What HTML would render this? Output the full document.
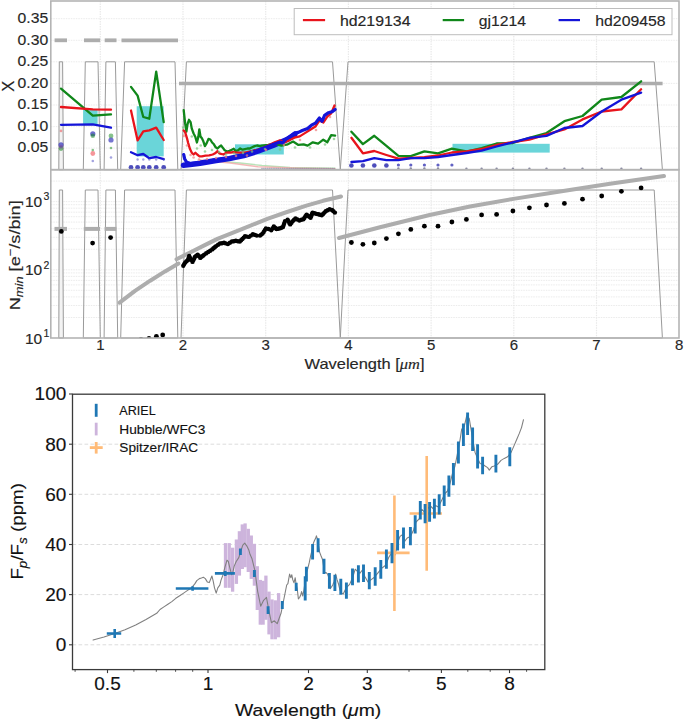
<!DOCTYPE html>
<html><head><meta charset="utf-8"><style>
html,body{margin:0;padding:0;background:#fff;}
svg{display:block;font-family:"Liberation Sans", sans-serif;}
text{stroke:#222;stroke-width:0.15px;paint-order:stroke;}
</style></head><body>
<svg width="685" height="719" viewBox="0 0 685 719">
<rect width="685" height="719" fill="#fff"/>
<line x1="100.3" y1="1.0" x2="100.3" y2="169.7" stroke="#e9e9e9" stroke-width="1.2" stroke-dasharray="1.5,1"/>
<line x1="100.3" y1="169.7" x2="100.3" y2="338.0" stroke="#e9e9e9" stroke-width="1.2" stroke-dasharray="1.5,1"/>
<line x1="183.0" y1="1.0" x2="183.0" y2="169.7" stroke="#e9e9e9" stroke-width="1.2" stroke-dasharray="1.5,1"/>
<line x1="183.0" y1="169.7" x2="183.0" y2="338.0" stroke="#e9e9e9" stroke-width="1.2" stroke-dasharray="1.5,1"/>
<line x1="265.7" y1="1.0" x2="265.7" y2="169.7" stroke="#e9e9e9" stroke-width="1.2" stroke-dasharray="1.5,1"/>
<line x1="265.7" y1="169.7" x2="265.7" y2="338.0" stroke="#e9e9e9" stroke-width="1.2" stroke-dasharray="1.5,1"/>
<line x1="348.4" y1="1.0" x2="348.4" y2="169.7" stroke="#e9e9e9" stroke-width="1.2" stroke-dasharray="1.5,1"/>
<line x1="348.4" y1="169.7" x2="348.4" y2="338.0" stroke="#e9e9e9" stroke-width="1.2" stroke-dasharray="1.5,1"/>
<line x1="431.1" y1="1.0" x2="431.1" y2="169.7" stroke="#e9e9e9" stroke-width="1.2" stroke-dasharray="1.5,1"/>
<line x1="431.1" y1="169.7" x2="431.1" y2="338.0" stroke="#e9e9e9" stroke-width="1.2" stroke-dasharray="1.5,1"/>
<line x1="513.8" y1="1.0" x2="513.8" y2="169.7" stroke="#e9e9e9" stroke-width="1.2" stroke-dasharray="1.5,1"/>
<line x1="513.8" y1="169.7" x2="513.8" y2="338.0" stroke="#e9e9e9" stroke-width="1.2" stroke-dasharray="1.5,1"/>
<line x1="596.5" y1="1.0" x2="596.5" y2="169.7" stroke="#e9e9e9" stroke-width="1.2" stroke-dasharray="1.5,1"/>
<line x1="596.5" y1="169.7" x2="596.5" y2="338.0" stroke="#e9e9e9" stroke-width="1.2" stroke-dasharray="1.5,1"/>
<line x1="50.8" y1="148.1" x2="679.0" y2="148.1" stroke="#e9e9e9" stroke-width="0.9" stroke-dasharray="1.5,1"/>
<line x1="50.8" y1="126.6" x2="679.0" y2="126.6" stroke="#e9e9e9" stroke-width="0.9" stroke-dasharray="1.5,1"/>
<line x1="50.8" y1="105.0" x2="679.0" y2="105.0" stroke="#e9e9e9" stroke-width="0.9" stroke-dasharray="1.5,1"/>
<line x1="50.8" y1="83.4" x2="679.0" y2="83.4" stroke="#e9e9e9" stroke-width="0.9" stroke-dasharray="1.5,1"/>
<line x1="50.8" y1="61.8" x2="679.0" y2="61.8" stroke="#e9e9e9" stroke-width="0.9" stroke-dasharray="1.5,1"/>
<line x1="50.8" y1="40.3" x2="679.0" y2="40.3" stroke="#e9e9e9" stroke-width="0.9" stroke-dasharray="1.5,1"/>
<line x1="50.8" y1="18.7" x2="679.0" y2="18.7" stroke="#e9e9e9" stroke-width="0.9" stroke-dasharray="1.5,1"/>
<line x1="50.8" y1="317.5" x2="679.0" y2="317.5" stroke="#e9e9e9" stroke-width="0.9" stroke-dasharray="1.5,1"/>
<line x1="50.8" y1="305.5" x2="679.0" y2="305.5" stroke="#e9e9e9" stroke-width="0.9" stroke-dasharray="1.5,1"/>
<line x1="50.8" y1="296.9" x2="679.0" y2="296.9" stroke="#e9e9e9" stroke-width="0.9" stroke-dasharray="1.5,1"/>
<line x1="50.8" y1="290.3" x2="679.0" y2="290.3" stroke="#e9e9e9" stroke-width="0.9" stroke-dasharray="1.5,1"/>
<line x1="50.8" y1="284.9" x2="679.0" y2="284.9" stroke="#e9e9e9" stroke-width="0.9" stroke-dasharray="1.5,1"/>
<line x1="50.8" y1="280.4" x2="679.0" y2="280.4" stroke="#e9e9e9" stroke-width="0.9" stroke-dasharray="1.5,1"/>
<line x1="50.8" y1="276.4" x2="679.0" y2="276.4" stroke="#e9e9e9" stroke-width="0.9" stroke-dasharray="1.5,1"/>
<line x1="50.8" y1="272.9" x2="679.0" y2="272.9" stroke="#e9e9e9" stroke-width="0.9" stroke-dasharray="1.5,1"/>
<line x1="50.8" y1="269.8" x2="679.0" y2="269.8" stroke="#e9e9e9" stroke-width="0.9" stroke-dasharray="1.5,1"/>
<line x1="50.8" y1="249.3" x2="679.0" y2="249.3" stroke="#e9e9e9" stroke-width="0.9" stroke-dasharray="1.5,1"/>
<line x1="50.8" y1="237.3" x2="679.0" y2="237.3" stroke="#e9e9e9" stroke-width="0.9" stroke-dasharray="1.5,1"/>
<line x1="50.8" y1="228.7" x2="679.0" y2="228.7" stroke="#e9e9e9" stroke-width="0.9" stroke-dasharray="1.5,1"/>
<line x1="50.8" y1="222.1" x2="679.0" y2="222.1" stroke="#e9e9e9" stroke-width="0.9" stroke-dasharray="1.5,1"/>
<line x1="50.8" y1="216.7" x2="679.0" y2="216.7" stroke="#e9e9e9" stroke-width="0.9" stroke-dasharray="1.5,1"/>
<line x1="50.8" y1="212.2" x2="679.0" y2="212.2" stroke="#e9e9e9" stroke-width="0.9" stroke-dasharray="1.5,1"/>
<line x1="50.8" y1="208.2" x2="679.0" y2="208.2" stroke="#e9e9e9" stroke-width="0.9" stroke-dasharray="1.5,1"/>
<line x1="50.8" y1="204.7" x2="679.0" y2="204.7" stroke="#e9e9e9" stroke-width="0.9" stroke-dasharray="1.5,1"/>
<line x1="50.8" y1="201.6" x2="679.0" y2="201.6" stroke="#e9e9e9" stroke-width="0.9" stroke-dasharray="1.5,1"/>
<line x1="50.8" y1="181.1" x2="679.0" y2="181.1" stroke="#e9e9e9" stroke-width="0.9" stroke-dasharray="1.5,1"/>
<polygon points="58.8,169.7 59.3,61.8 62.6,61.8 63.4,169.7" fill="#f3f3f3" stroke="#9a9a9a" stroke-width="1"/>
<polygon points="58.8,338.0 59.3,190.0 62.6,190.0 63.4,338.0" fill="#f3f3f3" stroke="#9a9a9a" stroke-width="1"/>
<polygon points="83.3,169.7 85.3,61.8 98.0,61.8 100.3,169.7" fill="none" stroke="#9a9a9a" stroke-width="1"/>
<polygon points="83.3,338.0 85.3,190.0 98.0,190.0 100.3,338.0" fill="none" stroke="#9a9a9a" stroke-width="1"/>
<polygon points="104.1,169.7 105.9,61.8 115.4,61.8 117.7,169.7" fill="none" stroke="#9a9a9a" stroke-width="1"/>
<polygon points="104.1,338.0 105.9,190.0 115.4,190.0 117.7,338.0" fill="none" stroke="#9a9a9a" stroke-width="1"/>
<polygon points="120.7,169.7 124.6,61.8 175.0,61.8 177.8,169.7" fill="none" stroke="#9a9a9a" stroke-width="1"/>
<polygon points="120.7,338.0 124.6,190.0 175.0,190.0 177.8,338.0" fill="none" stroke="#9a9a9a" stroke-width="1"/>
<polygon points="181.0,169.7 186.4,61.8 332.5,61.8 340.3,169.7" fill="none" stroke="#9a9a9a" stroke-width="1"/>
<polygon points="181.0,338.0 186.4,190.0 332.5,190.0 340.3,338.0" fill="none" stroke="#9a9a9a" stroke-width="1"/>
<polygon points="340.3,169.7 348.0,61.8 654.2,61.8 662.4,169.7" fill="none" stroke="#9a9a9a" stroke-width="1"/>
<polygon points="340.3,338.0 348.0,190.0 654.2,190.0 662.4,338.0" fill="none" stroke="#9a9a9a" stroke-width="1"/>
<clipPath id="c1"><rect x="50.8" y="1.0" width="628.2" height="168.7"/></clipPath>
<clipPath id="c2"><rect x="50.8" y="169.7" width="628.2" height="168.3"/></clipPath>
<line x1="54.6" y1="40.3" x2="67.0" y2="40.3" stroke="#adadad" stroke-width="3.8" />
<line x1="84.0" y1="40.3" x2="100.2" y2="40.3" stroke="#adadad" stroke-width="3.8" />
<line x1="104.7" y1="40.3" x2="116.5" y2="40.3" stroke="#adadad" stroke-width="3.8" />
<line x1="121.5" y1="40.3" x2="178.0" y2="40.3" stroke="#adadad" stroke-width="3.8" />
<line x1="179.0" y1="83.5" x2="662.6" y2="83.5" stroke="#adadad" stroke-width="3.6" />
<line x1="54.5" y1="228.9" x2="67.0" y2="228.9" stroke="#adadad" stroke-width="4" />
<line x1="83.8" y1="228.9" x2="100.0" y2="228.9" stroke="#adadad" stroke-width="4" />
<line x1="104.6" y1="228.9" x2="116.4" y2="228.9" stroke="#adadad" stroke-width="4" />
<polyline points="119.6,302.7 135.0,290.8 150.2,280.7 165.0,271.4 178.5,263.5" fill="none" stroke="#adadad" stroke-width="4.0" stroke-linejoin="round" stroke-linecap="round" stroke-linecap="butt"/>
<polyline points="176.5,259.2 191.1,252.0 204.3,245.4 217.4,238.9 230.6,233.6 243.7,228.4 256.8,223.1 268.0,218.6 287.0,212.0 306.4,205.7 323.0,200.8 341.0,196.5" fill="none" stroke="#adadad" stroke-width="4.0" stroke-linejoin="round" stroke-linecap="round" stroke-linecap="butt"/>
<polyline points="339.0,238.0 380.0,227.2 429.6,215.0 470.0,206.5 515.0,198.6 560.0,191.5 610.0,183.8 664.0,176.0" fill="none" stroke="#adadad" stroke-width="4.0" stroke-linejoin="round" stroke-linecap="round" stroke-linecap="butt"/>
<g clip-path="url(#c1)">
<rect x="83.1" y="109.8" width="14.5" height="14.7" fill="#6ad5d9" opacity="1"/>
<rect x="136.7" y="106.2" width="27.0" height="50.2" fill="#6ad5d9" opacity="1"/>
<rect x="235.0" y="144.3" width="48.8" height="10.2" fill="#6ad5d9" opacity="1"/>
<rect x="452.5" y="143.8" width="97.2" height="8.8" fill="#6ad5d9" opacity="1"/>
<polyline points="215.0,161.0 240.0,163.0 262.0,165.5 290.0,167.5 335.0,168.3" fill="none" stroke="#a8dca8" stroke-width="1.4" stroke-linejoin="round" stroke-linecap="round" opacity="0.8"/>
<polyline points="200.0,160.0 230.0,163.0 258.0,166.8 300.0,168.2 335.0,168.6" fill="none" stroke="#f2a8a8" stroke-width="1.4" stroke-linejoin="round" stroke-linecap="round" opacity="0.8"/>
<polyline points="183.5,165.2 190.0,164.6 200.0,163.2 214.6,160.7 229.2,158.6 243.8,155.6 258.4,151.0 273.0,145.5 287.6,139.2 294.9,134.2" fill="none" stroke="#1414d8" stroke-width="5.5" stroke-linejoin="round" stroke-linecap="round" />
<polyline points="61.0,88.6 92.8,115.6 111.0,114.3" fill="none" stroke="#10871a" stroke-width="2.3" stroke-linejoin="round" stroke-linecap="round" />
<polyline points="61.0,107.0 92.8,109.4 111.0,109.7" fill="none" stroke="#e8141c" stroke-width="2.3" stroke-linejoin="round" stroke-linecap="round" />
<polyline points="61.0,124.8 92.8,124.4 111.0,127.7" fill="none" stroke="#1414d8" stroke-width="2.3" stroke-linejoin="round" stroke-linecap="round" />
<polyline points="131.0,86.9 137.6,95.6 143.3,117.0 149.3,118.7 156.2,71.7 163.7,122.2" fill="none" stroke="#10871a" stroke-width="2.3" stroke-linejoin="round" stroke-linecap="round" />
<polyline points="131.0,110.5 137.6,140.4 143.3,131.4 149.3,130.3 156.2,127.7 163.7,140.0" fill="none" stroke="#e8141c" stroke-width="2.3" stroke-linejoin="round" stroke-linecap="round" />
<polyline points="131.0,152.3 137.6,155.2 143.3,154.0 149.3,158.2 156.2,157.0 163.7,159.2" fill="none" stroke="#1414d8" stroke-width="2.3" stroke-linejoin="round" stroke-linecap="round" />
<polyline points="183.7,110.2 185.2,123.9 186.4,131.7 187.6,123.9 189.0,119.8 190.6,122.1 191.8,128.7 193.6,133.5 195.4,137.1 196.9,142.5 198.3,137.1 199.3,129.3 200.5,136.5 201.9,138.3 203.1,140.7 204.9,146.1 206.7,143.1 208.5,138.9 210.3,139.5 212.1,142.5 213.9,144.3 215.7,147.3 217.5,148.5 219.3,146.7 221.1,145.5 222.9,147.9 224.7,150.3 227.1,151.5 229.5,150.9 231.9,149.7 233.7,148.8 235.5,150.9 237.9,150.3 240.2,148.5 242.6,149.7 245.0,149.1 247.4,148.5 249.8,148.5 252.2,147.3 254.6,146.1 257.0,145.5 260.0,146.1 261.6,145.6 268.1,144.9 274.7,143.6 281.3,145.6 287.8,144.3 293.1,141.6 298.4,144.9 303.6,144.3 307.6,145.6 312.8,142.3 318.1,143.6 323.3,139.7 327.3,142.3 331.2,135.1 335.1,135.7" fill="none" stroke="#10871a" stroke-width="2.3" stroke-linejoin="round" stroke-linecap="round" />
<polyline points="183.7,130.5 185.2,132.3 187.0,138.3 188.2,143.1 190.0,149.1 191.8,152.7 193.6,154.5 195.4,152.7 197.2,154.5 199.5,156.3 201.9,156.3 205.5,155.7 209.1,155.3 212.7,154.5 215.1,153.3 217.5,151.2 219.3,153.3 221.1,153.9 223.5,154.5 225.9,152.9 228.3,152.4 230.7,152.7 233.1,152.1 235.5,152.4 240.2,152.7 245.0,152.7 249.8,151.5 254.6,150.3 261.6,148.9 268.1,145.6 274.7,142.3 280.0,140.3 283.9,142.3 289.2,140.3 294.4,137.7 299.7,136.4 304.9,133.1 310.2,129.8 315.4,126.5 319.4,120.6 323.3,122.6 327.3,116.7 331.2,113.4 334.5,105.5" fill="none" stroke="#e8141c" stroke-width="2.3" stroke-linejoin="round" stroke-linecap="round" />
<polyline points="183.7,154.5 184.6,158.7 186.4,162.0 190.0,163.5 200.0,162.5 214.6,160.0 229.2,157.8 243.8,154.8 258.4,150.2 273.0,144.5 280.0,142.0 282.6,142.8 286.5,138.7 290.5,136.5 294.4,133.1 298.4,132.4 302.3,130.5 307.6,128.5 311.5,125.2 315.4,123.2 319.4,118.0 322.0,121.3 324.6,115.4 328.6,112.7 332.5,111.4 335.1,109.5" fill="none" stroke="#1414d8" stroke-width="3.2" stroke-linejoin="round" stroke-linecap="round" />
<polyline points="351.4,131.7 362.9,144.1 374.3,135.8 386.4,145.8 398.4,155.8 410.8,156.2 424.4,151.4 438.0,153.4 451.9,148.7 466.4,151.5 481.6,148.1 496.6,143.5 512.9,143.0 529.4,137.8 546.5,133.0 564.4,121.2 582.5,116.0 601.7,99.7 621.4,97.0 641.1,81.3" fill="none" stroke="#10871a" stroke-width="2.3" stroke-linejoin="round" stroke-linecap="round" />
<polyline points="351.4,137.8 362.9,153.3 374.3,151.0 386.4,155.0 398.4,158.7 410.8,158.0 424.4,157.2 438.0,155.5 451.9,152.5 466.4,151.5 481.6,149.0 496.6,145.0 512.9,142.0 529.4,139.6 546.5,134.3 564.4,129.4 582.5,119.4 601.7,111.5 621.4,109.4 641.1,89.2" fill="none" stroke="#e8141c" stroke-width="2.3" stroke-linejoin="round" stroke-linecap="round" />
<polyline points="351.4,162.0 362.9,161.2 374.3,158.2 386.4,160.1 398.4,160.1 410.8,158.2 424.4,158.2 438.0,157.0 451.9,155.0 466.4,153.0 481.6,150.7 496.6,146.5 512.9,142.3 529.4,137.8 546.5,135.9 564.4,128.0 582.5,126.0 601.7,111.5 621.4,99.7 641.1,92.6" fill="none" stroke="#1414d8" stroke-width="2.3" stroke-linejoin="round" stroke-linecap="round" />
<circle cx="61.0" cy="144.8" r="2.6" fill="#4848c0" opacity="0.8"/>
<circle cx="61.0" cy="148.6" r="2.3" fill="#10871a" opacity="0.55"/>
<circle cx="61.0" cy="130.9" r="1.3" fill="#e8141c" opacity="0.4"/>
<circle cx="61.0" cy="146.8" r="2.0" fill="#7a4aa0" opacity="0.6"/>
<circle cx="92.8" cy="133.8" r="2.6" fill="#4848c0" opacity="0.8"/>
<circle cx="92.8" cy="135.8" r="2.3" fill="#10871a" opacity="0.5"/>
<circle cx="92.8" cy="153.5" r="2.4" fill="#e8141c" opacity="0.45"/>
<circle cx="92.8" cy="150.0" r="1.3" fill="#10871a" opacity="0.5"/>
<circle cx="92.8" cy="161.0" r="1.3" fill="#4848c0" opacity="0.5"/>
<circle cx="111.0" cy="136.0" r="2.4" fill="#10871a" opacity="0.5"/>
<circle cx="111.0" cy="140.0" r="2.6" fill="#4848c0" opacity="0.75"/>
<circle cx="111.0" cy="148.0" r="1.3" fill="#10871a" opacity="0.5"/>
<circle cx="111.0" cy="157.5" r="1.3" fill="#4848c0" opacity="0.5"/>
<circle cx="131.0" cy="167.4" r="2.4" fill="#3a3ab4" opacity="0.9"/>
<circle cx="137.6" cy="167.4" r="2.4" fill="#3a3ab4" opacity="0.9"/>
<circle cx="143.3" cy="167.4" r="2.4" fill="#3a3ab4" opacity="0.9"/>
<circle cx="149.3" cy="167.4" r="2.4" fill="#3a3ab4" opacity="0.9"/>
<circle cx="156.2" cy="167.4" r="2.4" fill="#3a3ab4" opacity="0.9"/>
<circle cx="163.7" cy="167.4" r="2.4" fill="#3a3ab4" opacity="0.9"/>
<circle cx="137.6" cy="159.5" r="1.2" fill="#4848c0" opacity="0.5"/>
<circle cx="143.3" cy="159.5" r="1.2" fill="#4848c0" opacity="0.5"/>
<circle cx="149.3" cy="159.5" r="1.2" fill="#4848c0" opacity="0.5"/>
<circle cx="156.2" cy="159.5" r="1.2" fill="#4848c0" opacity="0.5"/>
<circle cx="163.7" cy="159.5" r="1.2" fill="#4848c0" opacity="0.5"/>
<circle cx="351.4" cy="165.5" r="2.3" fill="#3a3ab4" opacity="0.9"/>
<circle cx="362.9" cy="165.5" r="2.3" fill="#3a3ab4" opacity="0.9"/>
<circle cx="374.3" cy="165.5" r="2.3" fill="#3a3ab4" opacity="0.9"/>
<circle cx="386.4" cy="165.5" r="2.3" fill="#3a3ab4" opacity="0.9"/>
<circle cx="398.4" cy="165.0" r="1.6" fill="#3a3ab4" opacity="0.8"/>
<circle cx="410.8" cy="165.0" r="1.6" fill="#3a3ab4" opacity="0.8"/>
<circle cx="424.4" cy="165.0" r="1.6" fill="#3a3ab4" opacity="0.8"/>
<circle cx="438.0" cy="165.0" r="1.6" fill="#3a3ab4" opacity="0.8"/>
<circle cx="451.9" cy="165.0" r="1.6" fill="#3a3ab4" opacity="0.8"/>
<circle cx="466.4" cy="168.8" r="1.2" fill="#555577" opacity="0.7"/>
<circle cx="481.6" cy="168.8" r="1.2" fill="#555577" opacity="0.7"/>
<circle cx="496.6" cy="168.8" r="1.2" fill="#555577" opacity="0.7"/>
<circle cx="512.9" cy="168.8" r="1.2" fill="#555577" opacity="0.7"/>
<circle cx="529.4" cy="168.8" r="1.2" fill="#555577" opacity="0.7"/>
<circle cx="546.5" cy="168.8" r="1.2" fill="#555577" opacity="0.7"/>
<circle cx="564.4" cy="168.8" r="1.2" fill="#555577" opacity="0.7"/>
<circle cx="582.5" cy="168.8" r="1.2" fill="#555577" opacity="0.7"/>
<circle cx="601.7" cy="168.8" r="1.2" fill="#555577" opacity="0.7"/>
<circle cx="621.4" cy="168.8" r="1.2" fill="#555577" opacity="0.7"/>
<circle cx="641.1" cy="168.8" r="1.2" fill="#555577" opacity="0.7"/>
<circle cx="398.4" cy="168.5" r="1.2" fill="#555577" opacity="0.7"/>
<circle cx="410.8" cy="168.5" r="1.2" fill="#555577" opacity="0.7"/>
<circle cx="424.4" cy="168.5" r="1.2" fill="#555577" opacity="0.7"/>
<circle cx="438.0" cy="168.5" r="1.2" fill="#555577" opacity="0.7"/>
<circle cx="262.0" cy="168.6" r="0.9" fill="#777799" opacity="0.6"/>
<circle cx="263.9" cy="168.6" r="0.9" fill="#777799" opacity="0.6"/>
<circle cx="265.7" cy="168.6" r="0.9" fill="#777799" opacity="0.6"/>
<circle cx="267.6" cy="168.6" r="0.9" fill="#777799" opacity="0.6"/>
<circle cx="269.4" cy="168.6" r="0.9" fill="#777799" opacity="0.6"/>
<circle cx="271.2" cy="168.6" r="0.9" fill="#777799" opacity="0.6"/>
<circle cx="273.1" cy="168.6" r="0.9" fill="#777799" opacity="0.6"/>
<circle cx="274.9" cy="168.6" r="0.9" fill="#777799" opacity="0.6"/>
<circle cx="276.8" cy="168.6" r="0.9" fill="#777799" opacity="0.6"/>
<circle cx="278.6" cy="168.6" r="0.9" fill="#777799" opacity="0.6"/>
<circle cx="280.5" cy="168.6" r="0.9" fill="#777799" opacity="0.6"/>
<circle cx="282.4" cy="168.6" r="0.9" fill="#777799" opacity="0.6"/>
<circle cx="284.2" cy="168.6" r="0.9" fill="#777799" opacity="0.6"/>
<circle cx="286.1" cy="168.6" r="0.9" fill="#777799" opacity="0.6"/>
<circle cx="287.9" cy="168.6" r="0.9" fill="#777799" opacity="0.6"/>
<circle cx="289.8" cy="168.6" r="0.9" fill="#777799" opacity="0.6"/>
<circle cx="291.6" cy="168.6" r="0.9" fill="#777799" opacity="0.6"/>
<circle cx="293.4" cy="168.6" r="0.9" fill="#777799" opacity="0.6"/>
<circle cx="295.3" cy="168.6" r="0.9" fill="#777799" opacity="0.6"/>
<circle cx="297.1" cy="168.6" r="0.9" fill="#777799" opacity="0.6"/>
<circle cx="299.0" cy="168.6" r="0.9" fill="#777799" opacity="0.6"/>
<circle cx="300.9" cy="168.6" r="0.9" fill="#777799" opacity="0.6"/>
<circle cx="302.7" cy="168.6" r="0.9" fill="#777799" opacity="0.6"/>
<circle cx="304.6" cy="168.6" r="0.9" fill="#777799" opacity="0.6"/>
<circle cx="306.4" cy="168.6" r="0.9" fill="#777799" opacity="0.6"/>
<circle cx="308.2" cy="168.6" r="0.9" fill="#777799" opacity="0.6"/>
<circle cx="310.1" cy="168.6" r="0.9" fill="#777799" opacity="0.6"/>
<circle cx="311.9" cy="168.6" r="0.9" fill="#777799" opacity="0.6"/>
<circle cx="313.8" cy="168.6" r="0.9" fill="#777799" opacity="0.6"/>
<circle cx="315.6" cy="168.6" r="0.9" fill="#777799" opacity="0.6"/>
<circle cx="317.5" cy="168.6" r="0.9" fill="#777799" opacity="0.6"/>
<circle cx="319.4" cy="168.6" r="0.9" fill="#777799" opacity="0.6"/>
<circle cx="321.2" cy="168.6" r="0.9" fill="#777799" opacity="0.6"/>
<circle cx="323.1" cy="168.6" r="0.9" fill="#777799" opacity="0.6"/>
<circle cx="324.9" cy="168.6" r="0.9" fill="#777799" opacity="0.6"/>
<circle cx="326.8" cy="168.6" r="0.9" fill="#777799" opacity="0.6"/>
<circle cx="328.6" cy="168.6" r="0.9" fill="#777799" opacity="0.6"/>
<circle cx="330.4" cy="168.6" r="0.9" fill="#777799" opacity="0.6"/>
<circle cx="332.3" cy="168.6" r="0.9" fill="#777799" opacity="0.6"/>
<circle cx="334.1" cy="168.6" r="0.9" fill="#777799" opacity="0.6"/>
<circle cx="183.3" cy="127.5" r="1.3" fill="#7cc47c" opacity="0.7"/>
<circle cx="191.8" cy="136.5" r="1.3" fill="#7cc47c" opacity="0.7"/>
<circle cx="197.0" cy="148.5" r="1.3" fill="#7cc47c" opacity="0.7"/>
<circle cx="200.7" cy="145.5" r="1.3" fill="#7cc47c" opacity="0.7"/>
<circle cx="205.0" cy="151.5" r="1.3" fill="#7cc47c" opacity="0.7"/>
<circle cx="212.0" cy="150.0" r="1.3" fill="#7cc47c" opacity="0.7"/>
<circle cx="219.0" cy="152.0" r="1.3" fill="#7cc47c" opacity="0.7"/>
<circle cx="226.0" cy="154.5" r="1.3" fill="#7cc47c" opacity="0.7"/>
<circle cx="234.0" cy="153.5" r="1.3" fill="#7cc47c" opacity="0.7"/>
<circle cx="243.0" cy="153.0" r="1.3" fill="#7cc47c" opacity="0.7"/>
<circle cx="252.0" cy="151.5" r="1.3" fill="#7cc47c" opacity="0.7"/>
<circle cx="265.0" cy="149.0" r="1.3" fill="#7cc47c" opacity="0.7"/>
<circle cx="280.0" cy="149.5" r="1.3" fill="#7cc47c" opacity="0.7"/>
<circle cx="295.0" cy="147.5" r="1.3" fill="#7cc47c" opacity="0.7"/>
<circle cx="310.0" cy="147.5" r="1.3" fill="#7cc47c" opacity="0.7"/>
<circle cx="325.0" cy="144.5" r="1.3" fill="#7cc47c" opacity="0.7"/>
<circle cx="334.0" cy="139.0" r="1.3" fill="#7cc47c" opacity="0.7"/>
<circle cx="183.7" cy="135.9" r="1.3" fill="#f08080" opacity="0.7"/>
<circle cx="187.0" cy="145.5" r="1.3" fill="#f08080" opacity="0.7"/>
<circle cx="190.6" cy="155.0" r="1.3" fill="#f08080" opacity="0.7"/>
<circle cx="193.6" cy="157.5" r="1.3" fill="#f08080" opacity="0.7"/>
<circle cx="199.0" cy="159.5" r="1.3" fill="#f08080" opacity="0.7"/>
<circle cx="207.0" cy="159.0" r="1.3" fill="#f08080" opacity="0.7"/>
<circle cx="216.0" cy="158.0" r="1.3" fill="#f08080" opacity="0.7"/>
<circle cx="226.0" cy="157.0" r="1.3" fill="#f08080" opacity="0.7"/>
<circle cx="236.0" cy="156.0" r="1.3" fill="#f08080" opacity="0.7"/>
<circle cx="247.0" cy="155.5" r="1.3" fill="#f08080" opacity="0.7"/>
<circle cx="266.0" cy="150.0" r="1.3" fill="#f08080" opacity="0.7"/>
<circle cx="284.0" cy="145.0" r="1.3" fill="#f08080" opacity="0.7"/>
<circle cx="300.0" cy="140.0" r="1.3" fill="#f08080" opacity="0.7"/>
<circle cx="316.0" cy="130.0" r="1.3" fill="#f08080" opacity="0.7"/>
<circle cx="330.0" cy="117.0" r="1.3" fill="#f08080" opacity="0.7"/>
</g>
<g clip-path="url(#c2)">
<circle cx="183.3" cy="265.8" r="2.2" fill="#000" opacity="1"/>
<circle cx="184.2" cy="264.1" r="2.2" fill="#000" opacity="1"/>
<circle cx="185.2" cy="262.5" r="2.2" fill="#000" opacity="1"/>
<circle cx="186.6" cy="261.2" r="2.2" fill="#000" opacity="1"/>
<circle cx="187.9" cy="259.9" r="2.2" fill="#000" opacity="1"/>
<circle cx="188.6" cy="257.9" r="2.2" fill="#000" opacity="1"/>
<circle cx="189.2" cy="256.0" r="2.2" fill="#000" opacity="1"/>
<circle cx="190.1" cy="257.9" r="2.2" fill="#000" opacity="1"/>
<circle cx="191.1" cy="259.9" r="2.2" fill="#000" opacity="1"/>
<circle cx="192.5" cy="261.9" r="2.2" fill="#000" opacity="1"/>
<circle cx="193.4" cy="260.1" r="2.2" fill="#000" opacity="1"/>
<circle cx="194.2" cy="258.4" r="2.2" fill="#000" opacity="1"/>
<circle cx="195.1" cy="256.6" r="2.2" fill="#000" opacity="1"/>
<circle cx="196.4" cy="255.6" r="2.2" fill="#000" opacity="1"/>
<circle cx="197.7" cy="254.6" r="2.2" fill="#000" opacity="1"/>
<circle cx="199.0" cy="256.2" r="2.2" fill="#000" opacity="1"/>
<circle cx="200.3" cy="257.9" r="2.2" fill="#000" opacity="1"/>
<circle cx="201.6" cy="256.8" r="2.2" fill="#000" opacity="1"/>
<circle cx="203.0" cy="255.7" r="2.2" fill="#000" opacity="1"/>
<circle cx="204.3" cy="254.6" r="2.2" fill="#000" opacity="1"/>
<circle cx="206.2" cy="253.3" r="2.2" fill="#000" opacity="1"/>
<circle cx="208.2" cy="252.0" r="2.2" fill="#000" opacity="1"/>
<circle cx="210.2" cy="250.7" r="2.2" fill="#000" opacity="1"/>
<circle cx="212.2" cy="249.4" r="2.2" fill="#000" opacity="1"/>
<circle cx="213.5" cy="248.3" r="2.2" fill="#000" opacity="1"/>
<circle cx="214.8" cy="247.2" r="2.2" fill="#000" opacity="1"/>
<circle cx="216.1" cy="246.1" r="2.2" fill="#000" opacity="1"/>
<circle cx="218.1" cy="244.8" r="2.2" fill="#000" opacity="1"/>
<circle cx="220.0" cy="243.5" r="2.2" fill="#000" opacity="1"/>
<circle cx="222.0" cy="243.2" r="2.2" fill="#000" opacity="1"/>
<circle cx="224.0" cy="242.8" r="2.2" fill="#000" opacity="1"/>
<circle cx="225.9" cy="243.4" r="2.2" fill="#000" opacity="1"/>
<circle cx="227.9" cy="244.1" r="2.2" fill="#000" opacity="1"/>
<circle cx="229.9" cy="242.8" r="2.2" fill="#000" opacity="1"/>
<circle cx="231.9" cy="241.5" r="2.2" fill="#000" opacity="1"/>
<circle cx="233.9" cy="241.2" r="2.2" fill="#000" opacity="1"/>
<circle cx="235.8" cy="240.8" r="2.2" fill="#000" opacity="1"/>
<circle cx="237.8" cy="241.2" r="2.2" fill="#000" opacity="1"/>
<circle cx="239.8" cy="241.5" r="2.2" fill="#000" opacity="1"/>
<circle cx="241.1" cy="240.2" r="2.2" fill="#000" opacity="1"/>
<circle cx="242.4" cy="238.9" r="2.2" fill="#000" opacity="1"/>
<circle cx="243.7" cy="237.6" r="2.2" fill="#000" opacity="1"/>
<circle cx="245.0" cy="236.2" r="2.2" fill="#000" opacity="1"/>
<circle cx="246.9" cy="236.6" r="2.2" fill="#000" opacity="1"/>
<circle cx="248.9" cy="236.9" r="2.2" fill="#000" opacity="1"/>
<circle cx="250.9" cy="235.6" r="2.2" fill="#000" opacity="1"/>
<circle cx="252.9" cy="234.3" r="2.2" fill="#000" opacity="1"/>
<circle cx="254.9" cy="234.9" r="2.2" fill="#000" opacity="1"/>
<circle cx="256.8" cy="235.6" r="2.2" fill="#000" opacity="1"/>
<circle cx="260.0" cy="235.6" r="2.2" fill="#000" opacity="1"/>
<circle cx="261.3" cy="234.6" r="2.2" fill="#000" opacity="1"/>
<circle cx="262.6" cy="233.6" r="2.2" fill="#000" opacity="1"/>
<circle cx="263.7" cy="231.9" r="2.2" fill="#000" opacity="1"/>
<circle cx="264.8" cy="230.1" r="2.2" fill="#000" opacity="1"/>
<circle cx="265.9" cy="228.4" r="2.2" fill="#000" opacity="1"/>
<circle cx="268.5" cy="229.0" r="2.2" fill="#000" opacity="1"/>
<circle cx="271.2" cy="230.3" r="2.2" fill="#000" opacity="1"/>
<circle cx="272.5" cy="228.4" r="2.2" fill="#000" opacity="1"/>
<circle cx="273.8" cy="226.4" r="2.2" fill="#000" opacity="1"/>
<circle cx="275.1" cy="227.7" r="2.2" fill="#000" opacity="1"/>
<circle cx="276.4" cy="229.0" r="2.2" fill="#000" opacity="1"/>
<circle cx="278.0" cy="228.7" r="2.2" fill="#000" opacity="1"/>
<circle cx="279.7" cy="228.4" r="2.2" fill="#000" opacity="1"/>
<circle cx="281.4" cy="227.7" r="2.2" fill="#000" opacity="1"/>
<circle cx="283.0" cy="227.0" r="2.2" fill="#000" opacity="1"/>
<circle cx="283.7" cy="225.0" r="2.2" fill="#000" opacity="1"/>
<circle cx="284.3" cy="223.1" r="2.2" fill="#000" opacity="1"/>
<circle cx="285.0" cy="221.1" r="2.2" fill="#000" opacity="1"/>
<circle cx="287.6" cy="219.8" r="2.2" fill="#000" opacity="1"/>
<circle cx="288.5" cy="221.3" r="2.2" fill="#000" opacity="1"/>
<circle cx="289.3" cy="222.9" r="2.2" fill="#000" opacity="1"/>
<circle cx="290.2" cy="224.4" r="2.2" fill="#000" opacity="1"/>
<circle cx="291.5" cy="222.8" r="2.2" fill="#000" opacity="1"/>
<circle cx="292.8" cy="221.1" r="2.2" fill="#000" opacity="1"/>
<circle cx="294.1" cy="219.8" r="2.2" fill="#000" opacity="1"/>
<circle cx="295.5" cy="218.5" r="2.2" fill="#000" opacity="1"/>
<circle cx="297.4" cy="219.5" r="2.2" fill="#000" opacity="1"/>
<circle cx="299.4" cy="220.5" r="2.2" fill="#000" opacity="1"/>
<circle cx="301.4" cy="219.8" r="2.2" fill="#000" opacity="1"/>
<circle cx="303.4" cy="219.2" r="2.2" fill="#000" opacity="1"/>
<circle cx="304.5" cy="217.7" r="2.2" fill="#000" opacity="1"/>
<circle cx="305.5" cy="216.1" r="2.2" fill="#000" opacity="1"/>
<circle cx="306.6" cy="214.6" r="2.2" fill="#000" opacity="1"/>
<circle cx="307.9" cy="215.7" r="2.2" fill="#000" opacity="1"/>
<circle cx="309.3" cy="216.7" r="2.2" fill="#000" opacity="1"/>
<circle cx="310.6" cy="217.8" r="2.2" fill="#000" opacity="1"/>
<circle cx="311.3" cy="216.1" r="2.2" fill="#000" opacity="1"/>
<circle cx="311.9" cy="214.3" r="2.2" fill="#000" opacity="1"/>
<circle cx="312.6" cy="212.6" r="2.2" fill="#000" opacity="1"/>
<circle cx="314.6" cy="213.2" r="2.2" fill="#000" opacity="1"/>
<circle cx="316.5" cy="213.9" r="2.2" fill="#000" opacity="1"/>
<circle cx="318.3" cy="214.3" r="2.2" fill="#000" opacity="1"/>
<circle cx="320.0" cy="214.8" r="2.2" fill="#000" opacity="1"/>
<circle cx="321.8" cy="215.2" r="2.2" fill="#000" opacity="1"/>
<circle cx="323.1" cy="213.9" r="2.2" fill="#000" opacity="1"/>
<circle cx="324.4" cy="212.6" r="2.2" fill="#000" opacity="1"/>
<circle cx="325.7" cy="211.3" r="2.2" fill="#000" opacity="1"/>
<circle cx="327.6" cy="210.3" r="2.2" fill="#000" opacity="1"/>
<circle cx="329.6" cy="209.3" r="2.2" fill="#000" opacity="1"/>
<circle cx="332.0" cy="210.0" r="2.2" fill="#000" opacity="1"/>
<circle cx="333.4" cy="211.3" r="2.2" fill="#000" opacity="1"/>
<circle cx="334.9" cy="212.6" r="2.2" fill="#000" opacity="1"/>
<circle cx="61.3" cy="231.4" r="2.4" fill="#000" opacity="1"/>
<circle cx="92.6" cy="243.1" r="2.4" fill="#000" opacity="1"/>
<circle cx="110.6" cy="237.6" r="2.4" fill="#000" opacity="1"/>
<circle cx="149.0" cy="338.5" r="2.4" fill="#000" opacity="1"/>
<circle cx="156.4" cy="336.3" r="2.4" fill="#000" opacity="1"/>
<circle cx="162.7" cy="335.0" r="2.4" fill="#000" opacity="1"/>
<circle cx="141.0" cy="339.5" r="2.4" fill="#000" opacity="1"/>
<circle cx="351.4" cy="242.5" r="2.4" fill="#000" opacity="1"/>
<circle cx="362.9" cy="244.3" r="2.4" fill="#000" opacity="1"/>
<circle cx="374.3" cy="243.0" r="2.4" fill="#000" opacity="1"/>
<circle cx="386.4" cy="238.6" r="2.4" fill="#000" opacity="1"/>
<circle cx="398.4" cy="233.8" r="2.4" fill="#000" opacity="1"/>
<circle cx="410.8" cy="229.4" r="2.4" fill="#000" opacity="1"/>
<circle cx="424.4" cy="226.2" r="2.4" fill="#000" opacity="1"/>
<circle cx="438.0" cy="226.2" r="2.4" fill="#000" opacity="1"/>
<circle cx="451.9" cy="222.0" r="2.4" fill="#000" opacity="1"/>
<circle cx="466.4" cy="219.4" r="2.4" fill="#000" opacity="1"/>
<circle cx="481.6" cy="214.9" r="2.4" fill="#000" opacity="1"/>
<circle cx="496.6" cy="214.4" r="2.4" fill="#000" opacity="1"/>
<circle cx="512.9" cy="211.0" r="2.4" fill="#000" opacity="1"/>
<circle cx="529.4" cy="207.8" r="2.4" fill="#000" opacity="1"/>
<circle cx="546.5" cy="205.0" r="2.4" fill="#000" opacity="1"/>
<circle cx="564.4" cy="203.4" r="2.4" fill="#000" opacity="1"/>
<circle cx="582.5" cy="199.2" r="2.4" fill="#000" opacity="1"/>
<circle cx="601.7" cy="196.0" r="2.4" fill="#000" opacity="1"/>
<circle cx="621.4" cy="191.3" r="2.4" fill="#000" opacity="1"/>
<circle cx="641.1" cy="187.9" r="2.4" fill="#000" opacity="1"/>
</g>
<rect x="50.8" y="1.0" width="628.2" height="168.7" fill="none" stroke="#b4b4b4" stroke-width="1.6"/>
<rect x="50.8" y="169.7" width="628.2" height="168.3" fill="none" stroke="#b4b4b4" stroke-width="1.6"/>
<text x="48.2" y="152.4" font-size="15" text-anchor="end" fill="#262626" textLength="30.6" lengthAdjust="spacingAndGlyphs" >0.05</text>
<text x="48.2" y="130.9" font-size="15" text-anchor="end" fill="#262626" textLength="30.6" lengthAdjust="spacingAndGlyphs" >0.10</text>
<text x="48.2" y="109.3" font-size="15" text-anchor="end" fill="#262626" textLength="30.6" lengthAdjust="spacingAndGlyphs" >0.15</text>
<text x="48.2" y="87.7" font-size="15" text-anchor="end" fill="#262626" textLength="30.6" lengthAdjust="spacingAndGlyphs" >0.20</text>
<text x="48.2" y="66.1" font-size="15" text-anchor="end" fill="#262626" textLength="30.6" lengthAdjust="spacingAndGlyphs" >0.25</text>
<text x="48.2" y="44.6" font-size="15" text-anchor="end" fill="#262626" textLength="30.6" lengthAdjust="spacingAndGlyphs" >0.30</text>
<text x="48.2" y="23.0" font-size="15" text-anchor="end" fill="#262626" textLength="30.6" lengthAdjust="spacingAndGlyphs" >0.35</text>
<text transform="translate(13.7,86.3) rotate(-90)" font-size="16.5" text-anchor="middle" fill="#262626">X</text>
<rect x="294.2" y="8.5" width="377.8" height="26.2" fill="#fff" stroke="#bdbdbd" stroke-width="1"/>
<line x1="302.9" y1="20.1" x2="325.1" y2="20.1" stroke="#e8141c" stroke-width="2.2" />
<line x1="442.7" y1="20.1" x2="464.1" y2="20.1" stroke="#10871a" stroke-width="2.2" />
<line x1="558.6" y1="20.1" x2="580.0" y2="20.1" stroke="#1414d8" stroke-width="2.2" />
<text x="339.9" y="25.6" font-size="15" text-anchor="start" fill="#262626" textLength="70.6" lengthAdjust="spacingAndGlyphs" >hd219134</text>
<text x="478.8" y="25.6" font-size="15" text-anchor="start" fill="#262626" textLength="47.2" lengthAdjust="spacingAndGlyphs" >gj1214</text>
<text x="595.3" y="25.6" font-size="15" text-anchor="start" fill="#262626" textLength="70.3" lengthAdjust="spacingAndGlyphs" >hd209458</text>
<text x="25.0" y="343.6" font-size="15.5" fill="#262626">10<tspan font-size="10.5" dx="1.2" dy="-6.8">1</tspan></text>
<text x="25.0" y="275.4" font-size="15.5" fill="#262626">10<tspan font-size="10.5" dx="1.2" dy="-6.8">2</tspan></text>
<text x="25.0" y="207.2" font-size="15.5" fill="#262626">10<tspan font-size="10.5" dx="1.2" dy="-6.8">3</tspan></text>
<text transform="translate(19.7,310.3) rotate(-90)" font-size="15.5" fill="#262626" textLength="110" lengthAdjust="spacingAndGlyphs">N<tspan font-size="11" font-style="italic" dy="3">min</tspan><tspan dy="-3"> [e</tspan><tspan font-size="11" dy="-6">−</tspan><tspan dy="6">/s/bin]</tspan></text>
<text x="100.3" y="350.3" font-size="15" text-anchor="middle" fill="#262626" >1</text>
<text x="183.0" y="350.3" font-size="15" text-anchor="middle" fill="#262626" >2</text>
<text x="265.7" y="350.3" font-size="15" text-anchor="middle" fill="#262626" >3</text>
<text x="348.4" y="350.3" font-size="15" text-anchor="middle" fill="#262626" >4</text>
<text x="431.1" y="350.3" font-size="15" text-anchor="middle" fill="#262626" >5</text>
<text x="513.8" y="350.3" font-size="15" text-anchor="middle" fill="#262626" >6</text>
<text x="596.5" y="350.3" font-size="15" text-anchor="middle" fill="#262626" >7</text>
<text x="679.2" y="350.3" font-size="15" text-anchor="middle" fill="#262626" >8</text>
<text x="304.5" y="369.2" font-size="15" fill="#262626" textLength="120" lengthAdjust="spacingAndGlyphs">Wavelength [<tspan font-family="Liberation Serif" font-style="italic">μm</tspan>]</text>
<line x1="72.5" y1="644.8" x2="544.8" y2="644.8" stroke="#dcdcdc" stroke-width="1" stroke-dasharray="3.7,2.3"/>
<line x1="72.5" y1="594.6" x2="544.8" y2="594.6" stroke="#dcdcdc" stroke-width="1" stroke-dasharray="3.7,2.3"/>
<line x1="72.5" y1="544.5" x2="544.8" y2="544.5" stroke="#dcdcdc" stroke-width="1" stroke-dasharray="3.7,2.3"/>
<line x1="72.5" y1="494.3" x2="544.8" y2="494.3" stroke="#dcdcdc" stroke-width="1" stroke-dasharray="3.7,2.3"/>
<line x1="72.5" y1="444.2" x2="544.8" y2="444.2" stroke="#dcdcdc" stroke-width="1" stroke-dasharray="3.7,2.3"/>
<clipPath id="c3"><rect x="72.5" y="394.2" width="472.29999999999995" height="275.40000000000003"/></clipPath>
<g clip-path="url(#c3)">
<rect x="223.85" y="543.1" width="3.3" height="44.7" fill="#cdb4dc"/>
<rect x="227.55" y="543.1" width="3.3" height="44.7" fill="#cdb4dc"/>
<rect x="230.95" y="547.7" width="3.3" height="44.0" fill="#cdb4dc"/>
<rect x="234.75" y="539.5" width="3.3" height="44.4" fill="#cdb4dc"/>
<rect x="237.75" y="531.2" width="3.3" height="44.4" fill="#cdb4dc"/>
<rect x="240.65" y="524.4" width="3.3" height="44.6" fill="#cdb4dc"/>
<rect x="243.45" y="523.4" width="3.3" height="43.8" fill="#cdb4dc"/>
<rect x="246.65" y="528.8" width="3.3" height="43.2" fill="#cdb4dc"/>
<rect x="249.65" y="535.5" width="3.3" height="43.4" fill="#cdb4dc"/>
<rect x="252.75" y="543.8" width="3.3" height="41.9" fill="#cdb4dc"/>
<rect x="255.65" y="566.2" width="3.3" height="43.8" fill="#cdb4dc"/>
<rect x="258.65" y="579.9" width="3.3" height="44.8" fill="#cdb4dc"/>
<rect x="261.45" y="580.8" width="3.3" height="43.9" fill="#cdb4dc"/>
<rect x="264.25" y="575.6" width="3.3" height="44.2" fill="#cdb4dc"/>
<rect x="267.35" y="591.6" width="3.3" height="42.8" fill="#cdb4dc"/>
<rect x="270.35" y="599.4" width="3.3" height="39.9" fill="#cdb4dc"/>
<rect x="273.65" y="600.3" width="3.3" height="39.0" fill="#cdb4dc"/>
<rect x="276.95" y="593.1" width="3.3" height="44.2" fill="#cdb4dc"/>
<polyline points="93.1,640.0 104.0,637.0 114.7,633.5 125.0,629.8 135.7,625.1 146.0,619.5 156.7,613.3 160.0,609.5 163.9,606.9 167.9,604.2 171.8,601.6 175.8,598.3 179.7,595.7 183.6,593.1 187.6,590.4 191.5,587.8 194.8,583.9 196.8,580.6 199.4,578.6 201.4,578.0 203.4,577.3 205.3,578.6 207.3,581.9 209.3,582.6 210.6,579.3 211.9,576.0 213.2,581.2 214.5,587.8 216.2,593.1 217.8,587.8 219.8,585.2 221.1,579.9 223.1,574.7 225.0,566.8 227.0,560.2 228.3,561.5 229.6,566.8 231.6,574.7 232.9,572.0 234.2,566.1 236.2,561.5 238.8,557.6 240.8,551.0 242.8,545.1 244.7,543.1 246.7,545.8 248.7,549.7 250.0,554.3 251.9,558.4 254.8,570.1 257.7,591.6 260.7,606.2 263.6,600.3 266.5,597.4 268.4,608.1 271.4,622.7 274.3,620.8 277.2,623.7 281.1,613.0 285.0,593.5 286.7,585.0 287.9,583.6 289.6,574.1 290.8,577.7 291.8,574.8 292.8,579.9 294.0,582.8 295.2,577.7 296.2,585.0 297.2,588.7 298.4,598.9 299.6,597.5 300.6,595.3 301.6,591.6 302.8,596.0 303.9,590.1 305.2,581.4 306.4,572.6 307.9,568.2 309.3,562.4 310.8,555.1 312.3,549.2 313.3,543.4 314.5,540.5 315.6,538.3 316.4,535.8 317.4,539.0 318.4,544.8 319.6,552.1 321.0,555.8 322.5,559.5 323.7,566.8 324.7,572.6 326.1,572.6 327.6,574.1 329.1,578.5 330.2,588.7 331.3,587.2 332.7,585.0 334.2,581.4 335.6,574.1 337.1,579.9 338.6,584.3 340.0,590.1 341.5,593.1 343.2,594.0 346.4,587.6 349.6,584.4 352.8,577.2 355.2,569.2 357.6,571.6 360.0,573.2 362.4,570.0 364.8,576.4 368.0,582.0 371.2,579.6 374.4,577.2 378.4,572.4 381.6,568.4 385.6,565.2 388.8,557.2 392.0,552.4 395.2,554.8 397.6,542.8 400.0,536.4 402.4,534.8 404.8,541.2 407.2,538.0 410.4,536.4 413.6,530.0 416.0,522.0 419.2,518.8 421.6,509.2 424.8,512.4 427.2,509.2 430.4,506.0 433.6,509.2 435.0,505.2 438.3,506.9 441.7,500.2 445.0,493.5 447.5,491.0 450.0,483.5 452.5,473.5 455.0,466.0 457.5,453.4 460.0,440.1 461.7,429.2 464.2,426.7 466.7,415.9 469.2,418.4 470.9,428.4 473.4,443.4 475.1,452.6 477.6,458.4 480.1,463.5 482.6,464.3 485.1,466.0 487.6,467.6 489.3,470.1 491.8,466.8 494.3,466.0 497.6,464.3 501.0,460.4 504.3,458.4 507.6,456.8 511.0,452.6 514.3,445.1 516.8,439.2 519.3,433.4 521.5,427.6 523.5,419.7" fill="none" stroke="#808080" stroke-width="1.1" stroke-linejoin="round" stroke-linecap="round" />
<line x1="394.4" y1="495.6" x2="394.4" y2="611.0" stroke="#ffbb78" stroke-width="2.6" />
<line x1="377.1" y1="552.9" x2="409.6" y2="552.9" stroke="#ffbb78" stroke-width="2.6" />
<line x1="426.7" y1="456.0" x2="426.7" y2="570.8" stroke="#ffbb78" stroke-width="2.6" />
<line x1="409.6" y1="513.5" x2="441.9" y2="513.5" stroke="#ffbb78" stroke-width="2.6" />
<line x1="240.4" y1="548.4" x2="240.4" y2="555.0" stroke="#1f77b4" stroke-width="2.9" />
<line x1="254.4" y1="570.1" x2="254.4" y2="577.0" stroke="#1f77b4" stroke-width="2.9" />
<line x1="268.1" y1="606.2" x2="268.1" y2="614.0" stroke="#1f77b4" stroke-width="2.9" />
<line x1="282.3" y1="601.1" x2="282.3" y2="609.1" stroke="#1f77b4" stroke-width="2.9" />
<line x1="296.2" y1="582.8" x2="296.2" y2="590.9" stroke="#1f77b4" stroke-width="2.9" />
<line x1="305.2" y1="576.3" x2="305.2" y2="600.4" stroke="#1f77b4" stroke-width="2.9" />
<line x1="306.4" y1="566.8" x2="306.4" y2="581.4" stroke="#1f77b4" stroke-width="2.9" />
<line x1="312.6" y1="544.1" x2="312.6" y2="559.5" stroke="#1f77b4" stroke-width="2.9" />
<line x1="318.1" y1="538.3" x2="318.1" y2="552.2" stroke="#1f77b4" stroke-width="2.9" />
<line x1="324.0" y1="558.7" x2="324.0" y2="574.1" stroke="#1f77b4" stroke-width="2.9" />
<line x1="329.4" y1="572.9" x2="329.4" y2="588.7" stroke="#1f77b4" stroke-width="2.9" />
<line x1="334.9" y1="574.8" x2="334.9" y2="590.9" stroke="#1f77b4" stroke-width="2.9" />
<line x1="340.8" y1="578.8" x2="340.8" y2="594.8" stroke="#1f77b4" stroke-width="2.9" />
<line x1="346.4" y1="582.5" x2="346.4" y2="598.8" stroke="#1f77b4" stroke-width="2.9" />
<line x1="352.5" y1="568.4" x2="352.5" y2="585.2" stroke="#1f77b4" stroke-width="2.9" />
<line x1="358.4" y1="565.2" x2="358.4" y2="582.5" stroke="#1f77b4" stroke-width="2.9" />
<line x1="363.5" y1="564.4" x2="363.5" y2="582.0" stroke="#1f77b4" stroke-width="2.9" />
<line x1="369.3" y1="571.9" x2="369.3" y2="589.2" stroke="#1f77b4" stroke-width="2.9" />
<line x1="375.2" y1="567.3" x2="375.2" y2="585.7" stroke="#1f77b4" stroke-width="2.9" />
<line x1="380.8" y1="560.1" x2="380.8" y2="578.8" stroke="#1f77b4" stroke-width="2.9" />
<line x1="386.4" y1="549.5" x2="386.4" y2="568.7" stroke="#1f77b4" stroke-width="2.9" />
<line x1="392.0" y1="543.1" x2="392.0" y2="563.3" stroke="#1f77b4" stroke-width="2.9" />
<line x1="397.6" y1="530.0" x2="397.6" y2="550.5" stroke="#1f77b4" stroke-width="2.9" />
<line x1="403.5" y1="527.6" x2="403.5" y2="548.4" stroke="#1f77b4" stroke-width="2.9" />
<line x1="410.4" y1="527.1" x2="410.4" y2="545.2" stroke="#1f77b4" stroke-width="2.9" />
<line x1="415.2" y1="515.3" x2="415.2" y2="533.5" stroke="#1f77b4" stroke-width="2.9" />
<line x1="420.3" y1="500.9" x2="420.3" y2="519.6" stroke="#1f77b4" stroke-width="2.9" />
<line x1="425.1" y1="504.1" x2="425.1" y2="523.3" stroke="#1f77b4" stroke-width="2.9" />
<line x1="429.6" y1="502.0" x2="429.6" y2="521.7" stroke="#1f77b4" stroke-width="2.9" />
<line x1="434.4" y1="498.8" x2="434.4" y2="518.5" stroke="#1f77b4" stroke-width="2.9" />
<line x1="439.2" y1="494.3" x2="439.2" y2="514.4" stroke="#1f77b4" stroke-width="2.9" />
<line x1="444.2" y1="485.5" x2="444.2" y2="506.0" stroke="#1f77b4" stroke-width="2.9" />
<line x1="448.9" y1="475.5" x2="448.9" y2="496.8" stroke="#1f77b4" stroke-width="2.9" />
<line x1="453.4" y1="463.1" x2="453.4" y2="485.2" stroke="#1f77b4" stroke-width="2.9" />
<line x1="458.4" y1="441.4" x2="458.4" y2="463.5" stroke="#1f77b4" stroke-width="2.9" />
<line x1="463.4" y1="423.4" x2="463.4" y2="445.9" stroke="#1f77b4" stroke-width="2.9" />
<line x1="467.6" y1="412.5" x2="467.6" y2="435.1" stroke="#1f77b4" stroke-width="2.9" />
<line x1="472.6" y1="427.6" x2="472.6" y2="450.9" stroke="#1f77b4" stroke-width="2.9" />
<line x1="477.6" y1="444.2" x2="477.6" y2="468.5" stroke="#1f77b4" stroke-width="2.9" />
<line x1="482.6" y1="456.8" x2="482.6" y2="474.3" stroke="#1f77b4" stroke-width="2.9" />
<line x1="495.9" y1="454.8" x2="495.9" y2="472.6" stroke="#1f77b4" stroke-width="2.9" />
<line x1="509.8" y1="447.3" x2="509.8" y2="466.3" stroke="#1f77b4" stroke-width="2.9" />
<line x1="106.8" y1="633.5" x2="121.2" y2="633.5" stroke="#1f77b4" stroke-width="2.6" />
<line x1="114.7" y1="629.0" x2="114.7" y2="637.9" stroke="#1f77b4" stroke-width="2.6" />
<line x1="175.8" y1="588.5" x2="208.4" y2="588.5" stroke="#1f77b4" stroke-width="2.6" />
<line x1="192.6" y1="586.2" x2="192.6" y2="590.7" stroke="#1f77b4" stroke-width="2.6" />
<line x1="214.9" y1="573.4" x2="234.9" y2="573.4" stroke="#1f77b4" stroke-width="2.6" />
<line x1="225.3" y1="570.9" x2="225.3" y2="576.0" stroke="#1f77b4" stroke-width="2.6" />
</g>
<rect x="72.5" y="394.2" width="472.3" height="275.4" fill="none" stroke="#3a3a3a" stroke-width="1.3"/>
<line x1="69.0" y1="644.8" x2="72.5" y2="644.8" stroke="#3a3a3a" stroke-width="1.1" />
<text x="66.3" y="651.1" font-size="17.6" text-anchor="end" fill="#111" textLength="10.6" lengthAdjust="spacingAndGlyphs" >0</text>
<line x1="69.0" y1="594.6" x2="72.5" y2="594.6" stroke="#3a3a3a" stroke-width="1.1" />
<text x="66.3" y="600.9" font-size="17.6" text-anchor="end" fill="#111" textLength="21.1" lengthAdjust="spacingAndGlyphs" >20</text>
<line x1="69.0" y1="544.5" x2="72.5" y2="544.5" stroke="#3a3a3a" stroke-width="1.1" />
<text x="66.3" y="550.8" font-size="17.6" text-anchor="end" fill="#111" textLength="21.1" lengthAdjust="spacingAndGlyphs" >40</text>
<line x1="69.0" y1="494.3" x2="72.5" y2="494.3" stroke="#3a3a3a" stroke-width="1.1" />
<text x="66.3" y="500.6" font-size="17.6" text-anchor="end" fill="#111" textLength="21.1" lengthAdjust="spacingAndGlyphs" >60</text>
<line x1="69.0" y1="444.2" x2="72.5" y2="444.2" stroke="#3a3a3a" stroke-width="1.1" />
<text x="66.3" y="450.5" font-size="17.6" text-anchor="end" fill="#111" textLength="21.1" lengthAdjust="spacingAndGlyphs" >80</text>
<line x1="69.0" y1="394.0" x2="72.5" y2="394.0" stroke="#3a3a3a" stroke-width="1.1" />
<text x="66.3" y="400.3" font-size="17.6" text-anchor="end" fill="#111" textLength="31.7" lengthAdjust="spacingAndGlyphs" >100</text>
<line x1="107.5" y1="669.6" x2="107.5" y2="673.1" stroke="#3a3a3a" stroke-width="1.1" />
<text x="107.5" y="689.6" font-size="17.6" text-anchor="middle" fill="#111" textLength="26.4" lengthAdjust="spacingAndGlyphs" >0.5</text>
<line x1="208.0" y1="669.6" x2="208.0" y2="673.1" stroke="#3a3a3a" stroke-width="1.1" />
<text x="208.0" y="689.6" font-size="17.6" text-anchor="middle" fill="#111" textLength="10.6" lengthAdjust="spacingAndGlyphs" >1</text>
<line x1="308.5" y1="669.6" x2="308.5" y2="673.1" stroke="#3a3a3a" stroke-width="1.1" />
<text x="308.5" y="689.6" font-size="17.6" text-anchor="middle" fill="#111" textLength="10.6" lengthAdjust="spacingAndGlyphs" >2</text>
<line x1="367.3" y1="669.6" x2="367.3" y2="673.1" stroke="#3a3a3a" stroke-width="1.1" />
<text x="367.3" y="689.6" font-size="17.6" text-anchor="middle" fill="#111" textLength="10.6" lengthAdjust="spacingAndGlyphs" >3</text>
<line x1="441.4" y1="669.6" x2="441.4" y2="673.1" stroke="#3a3a3a" stroke-width="1.1" />
<text x="441.4" y="689.6" font-size="17.6" text-anchor="middle" fill="#111" textLength="10.6" lengthAdjust="spacingAndGlyphs" >5</text>
<line x1="509.5" y1="669.6" x2="509.5" y2="673.1" stroke="#3a3a3a" stroke-width="1.1" />
<text x="509.5" y="689.6" font-size="17.6" text-anchor="middle" fill="#111" textLength="10.6" lengthAdjust="spacingAndGlyphs" >8</text>
<line x1="75.1" y1="669.6" x2="75.1" y2="671.8" stroke="#3a3a3a" stroke-width="0.9" />
<line x1="133.9" y1="669.6" x2="133.9" y2="671.8" stroke="#3a3a3a" stroke-width="0.9" />
<line x1="156.3" y1="669.6" x2="156.3" y2="671.8" stroke="#3a3a3a" stroke-width="0.9" />
<line x1="175.6" y1="669.6" x2="175.6" y2="671.8" stroke="#3a3a3a" stroke-width="0.9" />
<line x1="192.7" y1="669.6" x2="192.7" y2="671.8" stroke="#3a3a3a" stroke-width="0.9" />
<line x1="409.0" y1="669.6" x2="409.0" y2="671.8" stroke="#3a3a3a" stroke-width="0.9" />
<line x1="467.8" y1="669.6" x2="467.8" y2="671.8" stroke="#3a3a3a" stroke-width="0.9" />
<line x1="490.2" y1="669.6" x2="490.2" y2="671.8" stroke="#3a3a3a" stroke-width="0.9" />
<line x1="526.6" y1="669.6" x2="526.6" y2="671.8" stroke="#3a3a3a" stroke-width="0.9" />
<text x="234.9" y="715.6" font-size="16.6" fill="#111" textLength="146.4" lengthAdjust="spacingAndGlyphs">Wavelength (<tspan font-style="italic">μ</tspan>m)</text>
<text transform="translate(23.3,579.6) rotate(-90)" font-size="16.6" fill="#111" textLength="96.5" lengthAdjust="spacingAndGlyphs">F<tspan font-size="12" font-style="italic" dy="3.5">p</tspan><tspan dy="-3.5">/F</tspan><tspan font-size="12" font-style="italic" dy="3.5">s</tspan><tspan dy="-3.5"> (ppm)</tspan></text>
<line x1="96.2" y1="403.8" x2="96.2" y2="416.8" stroke="#1f77b4" stroke-width="2.8" />
<line x1="96.2" y1="422.7" x2="96.2" y2="435.4" stroke="#cdb4dc" stroke-width="2.8" />
<line x1="96.2" y1="442.0" x2="96.2" y2="453.6" stroke="#ffbb78" stroke-width="2.8" />
<line x1="89.8" y1="447.6" x2="102.7" y2="447.6" stroke="#ffbb78" stroke-width="2.8" />
<text x="119.3" y="415.1" font-size="12.8" text-anchor="start" fill="#111" textLength="36.4" lengthAdjust="spacingAndGlyphs" >ARIEL</text>
<text x="119.3" y="433.7" font-size="12.8" text-anchor="start" fill="#111" textLength="86.0" lengthAdjust="spacingAndGlyphs" >Hubble/WFC3</text>
<text x="119.3" y="452.1" font-size="12.8" text-anchor="start" fill="#111" textLength="78.8" lengthAdjust="spacingAndGlyphs" >Spitzer/IRAC</text>
</svg>
</body></html>
